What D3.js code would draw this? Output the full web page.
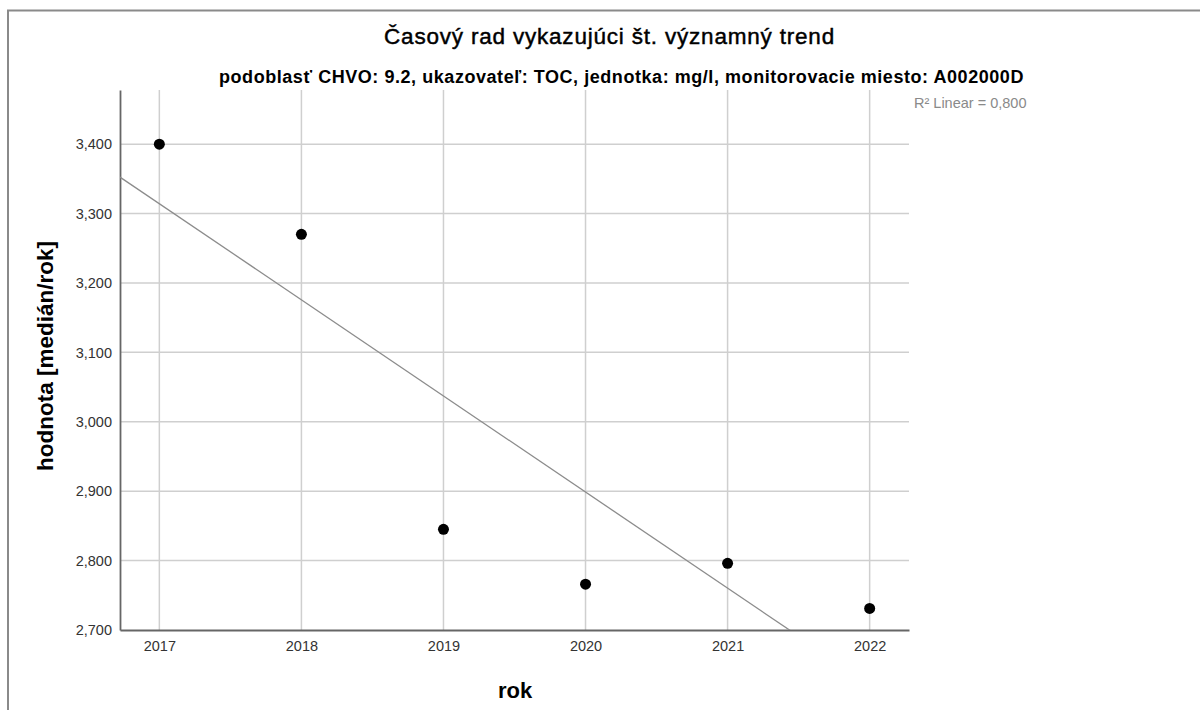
<!DOCTYPE html>
<html>
<head>
<meta charset="utf-8">
<script src="https://cdn.jsdelivr.net/npm/d3@7"></script>
<style>
  html, body { margin: 0; padding: 0; background: #fff; }
  svg { display: block; font-family: "Liberation Sans", Arial, sans-serif; }
</style>
</head>
<body>
<svg id="chart" width="1200" height="710"></svg>
<script>
const years = [2017, 2018, 2019, 2020, 2021, 2022];
const values = [3.400, 3.270, 2.845, 2.766, 2.796, 2.731];
const yTicks = [2.7, 2.8, 2.9, 3.0, 3.1, 3.2, 3.3, 3.4];
const titleText = "Časový rad vykazujúci št. významný trend";
const subtitleText = "podoblasť CHVO: 9.2, ukazovateľ: TOC, jednotka: mg/l, monitorovacie miesto: A002000D";
const xTitle = "rok";
const yTitle = "hodnota [medián/rok]";

const svg = d3.select("#chart");
const W = 1200, H = 710;
const plot = { left: 120, right: 909, top: 90, bottom: 630 };

const x = d3.scaleLinear().domain([2016.723, 2022.277]).range([plot.left, plot.right]);
const y = d3.scaleLinear().domain([2.7, 3.478]).range([plot.bottom, plot.top]);

const loc = d3.formatLocale({ decimal: ",", thousands: " ", grouping: [3], currency: ["", ""] });
const fmtY = loc.format(".3f");
const fmtR = loc.format(".3f");

// outer frame
svg.append("path")
  .attr("d", `M8,${H} L8,10.5 L${W},10.5`)
  .attr("fill", "none").attr("stroke", "#8a8a8a").attr("stroke-width", 2);

// gridlines
const g = svg.append("g");
g.selectAll("line.hg").data(yTicks.slice(1)).join("line")
  .attr("x1", plot.left).attr("x2", plot.right)
  .attr("y1", d => y(d)).attr("y2", d => y(d))
  .attr("stroke", "#cfcfcf").attr("stroke-width", 1.5);
g.selectAll("line.vg").data(years).join("line")
  .attr("x1", d => x(d)).attr("x2", d => x(d))
  .attr("y1", plot.top).attr("y2", plot.bottom)
  .attr("stroke", "#cfcfcf").attr("stroke-width", 1.5);

// axes
const yAxis = d3.axisLeft(y).tickValues(yTicks).tickFormat(fmtY).tickSize(0).tickPadding(8);
const xAxis = d3.axisBottom(x).tickValues(years).tickFormat(d3.format("d")).tickSize(0).tickPadding(11);

const ya = svg.append("g").attr("transform", `translate(${plot.left},0)`).call(yAxis);
ya.select(".domain").attr("stroke", "#666").attr("stroke-width", 1.8);
ya.selectAll("text").attr("font-size", 14.5).attr("fill", "#333").attr("font-family", "Liberation Sans, Arial, sans-serif");

const xa = svg.append("g").attr("transform", `translate(0,${plot.bottom})`).call(xAxis);
xa.select(".domain").attr("stroke", "#666").attr("stroke-width", 1.8);
xa.selectAll("text").attr("font-size", 14.5).attr("fill", "#333").attr("font-family", "Liberation Sans, Arial, sans-serif");

// regression
const n = years.length;
const mx = d3.mean(years), my = d3.mean(values);
let sxy = 0, sxx = 0, syy = 0;
for (let i = 0; i < n; i++) {
  sxy += (years[i] - mx) * (values[i] - my);
  sxx += (years[i] - mx) ** 2;
  syy += (values[i] - my) ** 2;
}
const slope = sxy / sxx;
const intercept = my - slope * mx;
const r2 = (sxy * sxy) / (sxx * syy);

svg.append("clipPath").attr("id", "clip").append("rect")
  .attr("x", plot.left).attr("y", plot.top)
  .attr("width", plot.right - plot.left).attr("height", plot.bottom - plot.top);

const [x0, x1] = x.domain();
svg.append("line")
  .attr("clip-path", "url(#clip)")
  .attr("x1", x(x0)).attr("y1", y(intercept + slope * x0))
  .attr("x2", x(x1)).attr("y2", y(intercept + slope * x1))
  .attr("stroke", "#8c8c8c").attr("stroke-width", 1.3);

// points
svg.selectAll("circle.pt").data(years.map((yr, i) => ({ yr, v: values[i] }))).join("circle")
  .attr("cx", d => x(d.yr)).attr("cy", d => y(d.v)).attr("r", 5.5)
  .attr("fill", "#000");

// R² label
svg.append("text").attr("x", 914).attr("y", 108)
  .attr("font-size", 14.5).attr("fill", "#8a8a8a")
  .text("R² Linear = " + fmtR(r2));

// titles
svg.append("text").attr("x", 609.5).attr("y", 44).attr("text-anchor", "middle")
  .attr("font-size", 22.5).attr("letter-spacing", 0.8).attr("fill", "#000")
  .attr("stroke", "#000").attr("stroke-width", 0.45).text(titleText);
svg.append("text").attr("x", 621.5).attr("y", 83).attr("text-anchor", "middle")
  .attr("font-size", 18).attr("letter-spacing", 0.55).attr("font-weight", "bold").attr("fill", "#000").text(subtitleText);

svg.append("text").attr("x", 515).attr("y", 698).attr("text-anchor", "middle")
  .attr("font-size", 22).attr("font-weight", "bold").attr("fill", "#000").text(xTitle);
svg.append("text").attr("transform", "translate(53,356) rotate(-90)").attr("text-anchor", "middle")
  .attr("font-size", 22.5).attr("font-weight", "bold").attr("fill", "#000").text(yTitle);
</script>
</body>
</html>
